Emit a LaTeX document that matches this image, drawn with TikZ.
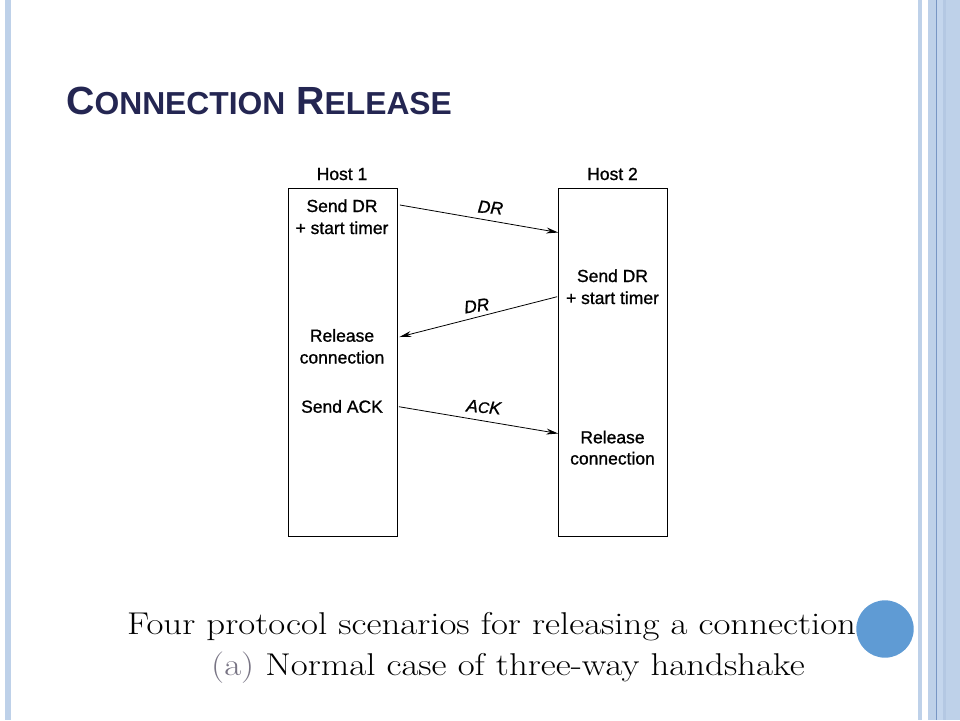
\documentclass[tikz,border=0pt]{standalone}
\usepackage{fontspec}
\newfontfamily\arial{Liberation Sans}
\newfontfamily\arialh[RawFeature={embolden=1.0}]{Liberation Sans}
\usetikzlibrary{arrows.meta,calc}
\definecolor{barblue}{RGB}{190,209,233}
\definecolor{barblueB}{RGB}{196,214,237}
\definecolor{bardark}{RGB}{120,150,196}
\definecolor{titlenavy}{RGB}{36,38,82}
\definecolor{dotblue}{RGB}{95,155,212}
\definecolor{capgrey}{RGB}{120,116,132}
\begin{document}
\begin{tikzpicture}[x=1pt,y=-1pt,
  hostbox/.style={draw=black,line width=0.9pt,minimum width=108.5pt,minimum height=348.5pt,anchor=north west,inner sep=0pt},
  txt/.style={font=\arialh\fontsize{17.5}{21}\selectfont,anchor=base,inner sep=0pt},
  msg/.style={font=\arialh\itshape\fontsize{17.5}{21}\selectfont,inner sep=0pt},
  capt/.style={anchor=base west,inner sep=0pt,xscale=1.17,font=\fontsize{31.5}{35}\selectfont},
  arr/.style={line width=0.8pt,-{Stealth[length=12pt,width=6pt]}}]
\useasboundingbox (0,0) rectangle (960,720);
\fill[white] (0,0) rectangle (960,720);
% side bars
\fill[barblue] (5,0) rectangle (11,720);
\fill[barblue] (918,0) rectangle (922,720);
\fill[barblue] (928,0) rectangle (960,720);
\fill[barblueB] (937,0) rectangle (943,720);
\fill[bardark] (935.8,0) rectangle (937,720);
\fill[barblue!85!bardark] (943,0) rectangle (946,720);
% title
\node[anchor=base west,inner sep=0pt,text=titlenavy] (title) at (66,114.5)
  {\arial\bfseries\fontsize{39.3}{41}\selectfont C{\fontsize{31.8}{33}\selectfont ONNECTION} R{\fontsize{31.8}{33}\selectfont ELEASE}};
% host boxes
\node[hostbox] (h1) at (288,187.5) {};
\node[hostbox] (h2) at (558.2,187.5) {};
\node[txt] (h1t) at (342,180) {Host 1};
\node[txt] (h2t) at (612.5,180) {Host 2};
% host 1 texts
\node[txt] (a1) at (342,212) {Send DR};
\node[txt] (a2) at (342,234) {+ start timer};
\node[txt] (a3) at (342,341.7) {Release};
\node[txt] (a4) at (342,363.5) {connection};
\node[txt] (a5) at (342,412.7) {Send ACK};
% host 2 texts
\node[txt] (b1) at (612.5,282) {Send DR};
\node[txt] (b2) at (612.5,304) {+ start timer};
\node[txt] (b3) at (612.5,443.3) {Release};
\node[txt] (b4) at (612.5,464.5) {connection};
% arrow end points
\coordinate (p1s) at ($(h1.north east)+(2.5,17.5)$);
\coordinate (p1e) at ($(h2.north west)+(0,45)$);
\coordinate (p2s) at ($(h2.north west)+(-1,109.2)$);
\coordinate (p2e) at ($(h1.north east)+(2,149.5)$);
\coordinate (p3s) at ($(h1.north east)+(1.5,219.2)$);
\coordinate (p3e) at ($(h2.north west)+(0,246)$);
\draw[arr] (p1s) -- (p1e);
\draw[arr] (p2s) -- (p2e);
\draw[arr] (p3s) -- (p3e);
\node[msg,rotate=-5] (m1) at (490.5,207.5) {DR};
\node[msg,rotate=8] (m2) at (476.7,305.7) {DR};
\node[msg,rotate=-5] (m3) at (483.7,407) {A{\fontsize{15.5}{18}\selectfont C}K};
% caption
\node[capt] (cap1) at (127,634.5) {Four protocol scenarios for releasing a connection.};
\node[capt] (cap2) at (211,675) {{\color{capgrey}(a)} Normal case of three-way handshake};
% blue dot
\fill[dotblue] (885,629) circle (28.7);
\end{tikzpicture}
\end{document}
